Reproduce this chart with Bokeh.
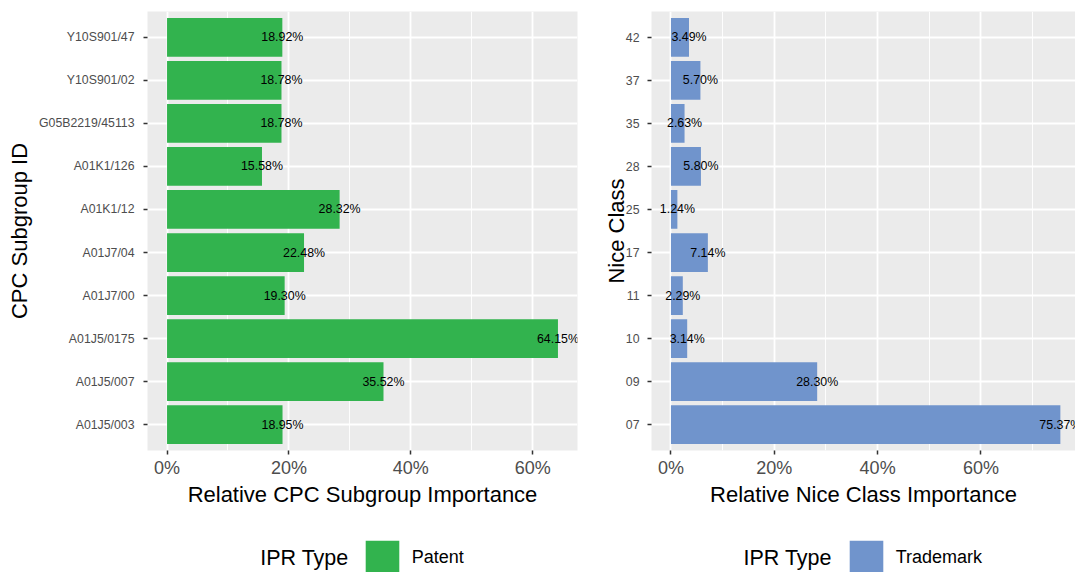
from bokeh.plotting import figure
from bokeh.models import (FactorRange, Range1d, FixedTicker, PrintfTickFormatter,
                          ColumnDataSource, Legend, LegendItem, Label)
from bokeh.layouts import row, column
from bokeh.embed import file_html
from bokeh.resources import INLINE
from bokeh.core.properties import value

# ---------------- data ----------------
cpc_ids = ["A01J5/003", "A01J5/007", "A01J5/0175", "A01J7/00", "A01J7/04",
           "A01K1/12", "A01K1/126", "G05B2219/45113", "Y10S901/02", "Y10S901/47"]
cpc_share = [18.95, 35.52, 64.15, 19.30, 22.48, 28.32, 15.58, 18.78, 18.78, 18.92]

nice_ids = ["07", "09", "10", "11", "17", "25", "28", "35", "37", "42"]
nice_share = [75.37, 28.30, 3.14, 2.29, 7.14, 1.24, 5.80, 2.63, 5.70, 3.49]

x_ticks = [0, 20, 40, 60]
x_minor = [10, 30, 50, 70]

PATENT = "#32B34E"
TRADEMARK = "#7094CC"
FONT = "Liberation Sans"


def make_panel(cats, vals, color, xlabel, ylabel,
               width, min_left, min_right, x_end, tick_standoff, ylab_standoff):
    src = ColumnDataSource(dict(cat=cats, val=vals,
                                lab=[f"{v:.2f}%" for v in vals]))
    p = figure(width=width, height=528,
               y_range=FactorRange(factors=cats, range_padding=0.1,
                                   range_padding_units="absolute"),
               x_range=Range1d(-0.05 * max(vals), x_end),
               output_backend="svg", toolbar_location=None,
               min_border_left=min_left, min_border_right=min_right,
               min_border_top=11, min_border_bottom=78)
    p.background_fill_color = "#EBEBEB"
    p.border_fill_color = "white"
    p.outline_line_color = None

    p.hbar(y="cat", left=0, right="val", height=0.9, source=src,
           fill_color=color, line_color=None)
    p.text(x="val", y="cat", text="lab", source=src,
           text_align="center", text_baseline="middle",
           text_font=value(FONT), text_font_size="12.4px", text_color="black")

    p.xgrid.grid_line_color = "white"
    p.xgrid.grid_line_width = 1.8
    p.xgrid.minor_grid_line_color = "white"
    p.xgrid.minor_grid_line_width = 0.9
    p.ygrid.grid_line_color = "white"
    p.ygrid.grid_line_width = 1.8

    xa = p.xaxis[0]
    xa.ticker = FixedTicker(ticks=x_ticks, minor_ticks=x_minor)
    xa.formatter = PrintfTickFormatter(format="%d%%")
    xa.axis_label = xlabel
    for ax in (p.xaxis[0], p.yaxis[0]):
        ax.axis_line_color = None
        ax.major_tick_in = 0
        ax.major_tick_out = 4
        ax.major_tick_line_color = "#333333"
        ax.major_tick_line_width = 1.5
        ax.minor_tick_line_color = None
        ax.major_label_text_color = "#4D4D4D"
        ax.major_label_text_font = FONT
        ax.axis_label_text_font = FONT
        ax.axis_label_text_font_style = "normal"
        ax.axis_label_text_font_size = "22px"
        ax.axis_label_text_color = "black"
    xa.major_label_text_font_size = "18px"
    xa.major_label_standoff = 3
    xa.axis_label_standoff = 1

    ya = p.yaxis[0]
    ya.axis_label = ylabel
    ya.major_label_text_font_size = "12.3px"
    ya.major_label_standoff = tick_standoff
    ya.axis_label_standoff = ylab_standoff
    return p


def make_legend(cats, vals, color, label, width, key_x, title_x):
    src = ColumnDataSource(dict(cat=cats, val=vals))
    q = figure(width=width, height=44, x_range=Range1d(0, 1),
               y_range=FactorRange(factors=cats),
               output_backend="svg", toolbar_location=None,
               min_border_left=0, min_border_right=0,
               min_border_top=0, min_border_bottom=0)
    q.axis.visible = False
    q.grid.visible = False
    q.outline_line_color = None
    q.background_fill_color = "white"
    q.border_fill_color = "white"
    r = q.hbar(y="cat", left=0, right="val", height=0.9, source=src,
               fill_color=color, line_color=None, visible=False)
    leg = Legend(items=[LegendItem(label=label, renderers=[r])],
                 location=(key_x, -6.25), orientation="horizontal",
                 glyph_width=42, glyph_height=42, label_standoff=9,
                 padding=0, margin=0, spacing=0,
                 border_line_color=None, background_fill_alpha=0,
                 inactive_fill_alpha=0,
                 label_text_font=FONT, label_text_font_size="18px",
                 label_text_color="black", label_text_baseline="middle")
    q.add_layout(leg, "center")
    q.add_layout(Label(x=title_x, y=15, x_units="screen", y_units="screen",
                       text="IPR Type", text_font=FONT,
                       text_font_size="21.5px", text_color="black",
                       text_baseline="middle", text_align="left"))
    return q


p1 = make_panel(cpc_ids, cpc_share, PATENT,
                "Relative CPC Subgroup Importance", "CPC Subgroup ID",
                width=590, min_left=147, min_right=13, x_end=1.05 * max(cpc_share),
                tick_standoff=9, ylab_standoff=4)
p2 = make_panel(nice_ids, nice_share, TRADEMARK,
                "Relative Nice Class Importance", "Nice Class",
                width=485, min_left=61, min_right=0, x_end=78.3,
                tick_standoff=8, ylab_standoff=-6)
q1 = make_legend(cpc_ids, cpc_share, PATENT, "Patent", 590, key_x=360.75, title_x=259.7)
q2 = make_legend(nice_ids, nice_share, TRADEMARK, "Trademark", 485, key_x=254.75, title_x=153)

layout = column(row(p1, p2), row(q1, q2))
open("out.html", "w").write(file_html(layout, INLINE))
